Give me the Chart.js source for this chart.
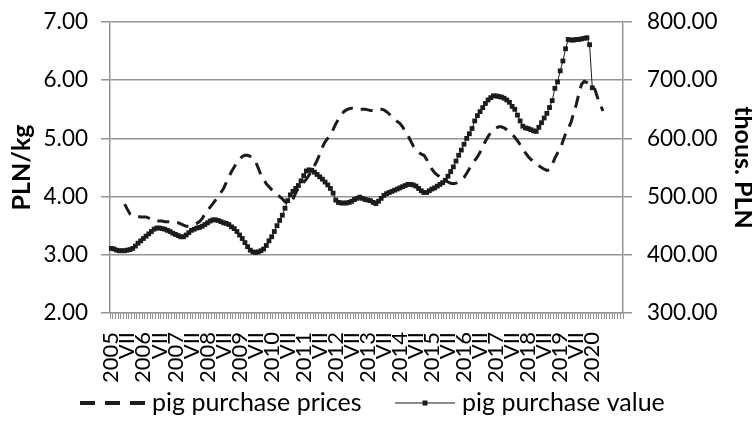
<!DOCTYPE html>
<html>
<head>
<meta charset="utf-8">
<script src="https://cdn.jsdelivr.net/npm/chart.js@4.4.1/dist/chart.umd.min.js"></script>
<style>
  html, body { margin: 0; padding: 0; background: #fff; }
</style>
</head>
<body>
<canvas id="chart" width="752" height="430"></canvas>
<script>
// Category axis: one slot per month, year label in January and "VII" in July
const years = ['2005', '2006', '2007', '2008', '2009', '2010', '2011', '2012',
               '2013', '2014', '2015', '2016', '2017', '2018', '2019', '2020']
const julyMark = 'VII'

// Series names
const seriesNames = ['pig purchase prices', 'pig purchase value']

// pig purchase prices, PLN/kg (left axis)
const pricePLNkg = [
  null, null, null, null, null, 3.87, 3.78, 3.70, 3.67, 3.66, 3.66, 3.65,   // 2005
  3.65, 3.65, 3.63, 3.61, 3.60, 3.58, 3.58, 3.58, 3.57, 3.57, 3.57, 3.57,   // 2006
  3.56, 3.55, 3.53, 3.51, 3.49, 3.49, 3.50, 3.52, 3.54, 3.57, 3.62, 3.70,   // 2007
  3.76, 3.82, 3.88, 3.94, 4.00, 4.07, 4.14, 4.24, 4.34, 4.43, 4.51, 4.58,   // 2008
  4.64, 4.69, 4.71, 4.71, 4.69, 4.66, 4.60, 4.49, 4.37, 4.30, 4.22, 4.17,   // 2009
  4.12, 4.08, 4.04, 4.00, 3.96, 3.91, 3.88, 3.88, 3.96, 4.06, 4.15, 4.21,   // 2010
  4.25, 4.30, 4.37, 4.44, 4.53, 4.62, 4.73, 4.85, 4.94, 5.00, 5.06, 5.15,   // 2011
  5.25, 5.33, 5.40, 5.46, 5.49, 5.51, 5.52, 5.52, 5.51, 5.50, 5.50, 5.50,   // 2012
  5.49, 5.48, 5.48, 5.49, 5.50, 5.50, 5.49, 5.46, 5.42, 5.37, 5.33, 5.29,   // 2013
  5.26, 5.20, 5.12, 5.05, 4.96, 4.87, 4.80, 4.76, 4.73, 4.71, 4.64, 4.55,   // 2014
  4.47, 4.41, 4.37, 4.34, 4.31, 4.28, 4.25, 4.23, 4.22, 4.23, 4.26, 4.29,   // 2015
  4.33, 4.40, 4.48, 4.55, 4.62, 4.68, 4.76, 4.85, 4.95, 5.03, 5.10, 5.14,   // 2016
  5.18, 5.20, 5.20, 5.18, 5.15, 5.11, 5.07, 5.02, 4.96, 4.89, 4.82, 4.75,   // 2017
  4.69, 4.64, 4.60, 4.56, 4.53, 4.50, 4.47, 4.45, 4.46, 4.55, 4.66, 4.75,   // 2018
  4.81, 4.95, 5.08, 5.17, 5.27, 5.43, 5.58, 5.77, 5.93, 5.98, 5.96, 5.93,   // 2019
  5.90, 5.84, 5.70, 5.58, 5.47                                              // 2020
]

// pig purchase value, thous. PLN (right axis)
const valueThousPLN = [
  411, 410, 408, 407, 407, 407, 408, 409, 411, 415, 420, 424,   // 2005
  428, 432, 436, 440, 444, 446, 446, 445, 444, 442, 440, 437,   // 2006
  435, 433, 431, 431, 434, 438, 442, 444, 446, 447, 449, 452,   // 2007
  455, 458, 460, 460, 459, 457, 455, 454, 452, 448, 445, 440,   // 2008
  434, 428, 421, 414, 408, 405, 404, 405, 407, 410, 416, 424,   // 2009
  431, 440, 450, 459, 468, 480, 493, 503, 509, 514, 519, 527,   // 2010
  536, 544, 546, 545, 542, 538, 534, 530, 525, 520, 514, 506,   // 2011
  494, 490, 489, 489, 489, 490, 492, 495, 497, 499, 497, 495,   // 2012
  494, 493, 490, 488, 492, 497, 502, 505, 507, 509, 511, 513,   // 2013
  515, 517, 519, 521, 521, 520, 518, 514, 510, 507, 507, 510,   // 2014
  513, 515, 518, 521, 524, 528, 535, 543, 551, 561, 571, 580,   // 2015
  590, 600, 608, 617, 630, 639, 646, 653, 660, 666, 670, 673,   // 2016
  673, 672, 671, 669, 666, 662, 655, 650, 640, 630, 621, 618,   // 2017
  617, 615, 613, 612, 619, 627, 635, 643, 653, 665, 686, 697,   // 2018
  716, 733, 754, 770, 769, 769, 770, 770, 771, 772, 773, 761,   // 2019
  687                                                           // 2020
]

// Look
const ink = '#1c1c1c'
const gridGray = '#959595'
const family = 'Lato, "Open Sans", sans-serif'

// Build the month slots (no "VII" after the last year)
const monthLabels = []
const lastYear = years[years.length - 1]
for (const y of years) {
  for (let m = 0; m < 12; m++) {
    if (m === 0) monthLabels.push(y)
    else if (m === 6 && y !== lastYear) monthLabels.push(julyMark)
    else monthLabels.push('')
  }
}

// Legend drawn under the plot, Excel style (dash sample / line with marker)
const bottomLegend = {
  id: 'bottomLegend',
  afterDraw(chart) {
    const ctx = chart.ctx
    const y = 403
    ctx.save()
    ctx.fillStyle = ink
    // dashed sample
    for (const x0 of [80, 105, 130]) ctx.fillRect(x0, y - 2, 15, 4)
    // thin line with a square marker
    ctx.fillRect(395, y - 0.5, 60, 1)
    ctx.fillRect(422.5, y - 2.5, 5, 5)
    // names
    ctx.fillStyle = '#000'
    ctx.font = '25px ' + family
    ctx.textBaseline = 'middle'
    ctx.textAlign = 'left'
    ctx.fillText(seriesNames[0], 152, y)
    ctx.fillText(seriesNames[1], 462, y)
    ctx.restore()
  }
}

// keep the plot box where it is: ignore the label overflow padding on y axes
function fixWidth(w) {
  return (s) => { s.width = w; s.paddingTop = 0; s.paddingBottom = 0 }
}

new Chart(document.getElementById('chart'), {
  type: 'line',
  data: {
    labels: monthLabels,
    datasets: [
      {
        label: seriesNames[0],
        data: pricePLNkg,
        yAxisID: 'yPrice',
        borderColor: ink,
        borderWidth: 3,
        borderDash: [12, 8],
        pointRadius: 0,
        fill: false
      },
      {
        label: seriesNames[1],
        data: valueThousPLN,
        yAxisID: 'yValue',
        borderColor: ink,
        borderWidth: 1,
        pointStyle: 'rect',
        pointRadius: 3.4,
        pointBackgroundColor: ink,
        pointBorderWidth: 0,
        fill: false
      }
    ]
  },
  options: {
    responsive: false,
    animation: false,
    devicePixelRatio: 1,
    layout: { padding: { top: 22, left: 0, right: 0, bottom: 17 } },
    plugins: {
      tooltip: { enabled: false },
      legend: { display: false }
    },
    scales: {
      x: {
        type: 'category',
        offset: true,
        grid: { display: true, drawOnChartArea: false, drawTicks: true, tickLength: 6, offset: true, color: gridGray, lineWidth: 1 },
        border: { display: true, color: gridGray, width: 1.5 },
        ticks: { autoSkip: false, minRotation: 90, maxRotation: 90, padding: 13, color: '#000', font: { family: family, size: 22 } },
        afterFit: (s) => { s.height = 100 }
      },
      yPrice: {
        position: 'left',
        min: 2, max: 7,
        ticks: { stepSize: 1, padding: 13, color: '#000', font: { family: family, size: 22.5 }, callback: (v) => v.toFixed(2) },
        grid: { color: gridGray, lineWidth: 1.5, tickLength: 9 },
        border: { color: gridGray, width: 1.5 },
        title: { display: true, text: 'PLN/kg', color: '#000', padding: 9.5, font: { family: family, size: 25, weight: 'bold', lineHeight: 1 } },
        afterFit: fixWidth(110)
      },
      yValue: {
        position: 'right',
        min: 300, max: 800,
        ticks: { stepSize: 100, padding: 15, color: '#000', font: { family: family, size: 22.5 }, callback: (v) => v.toFixed(2) },
        grid: { drawOnChartArea: false, color: gridGray, lineWidth: 1.5, tickLength: 9 },
        border: { color: gridGray, width: 1.5 },
        title: { display: true, text: 'thous. PLN', color: '#000', padding: 0, font: { family: family, size: 25, weight: 'bold', lineHeight: 0.7 } },
        afterFit: fixWidth(129)
      }
    }
  },
  plugins: [bottomLegend]
})
</script>
</body>
</html>
